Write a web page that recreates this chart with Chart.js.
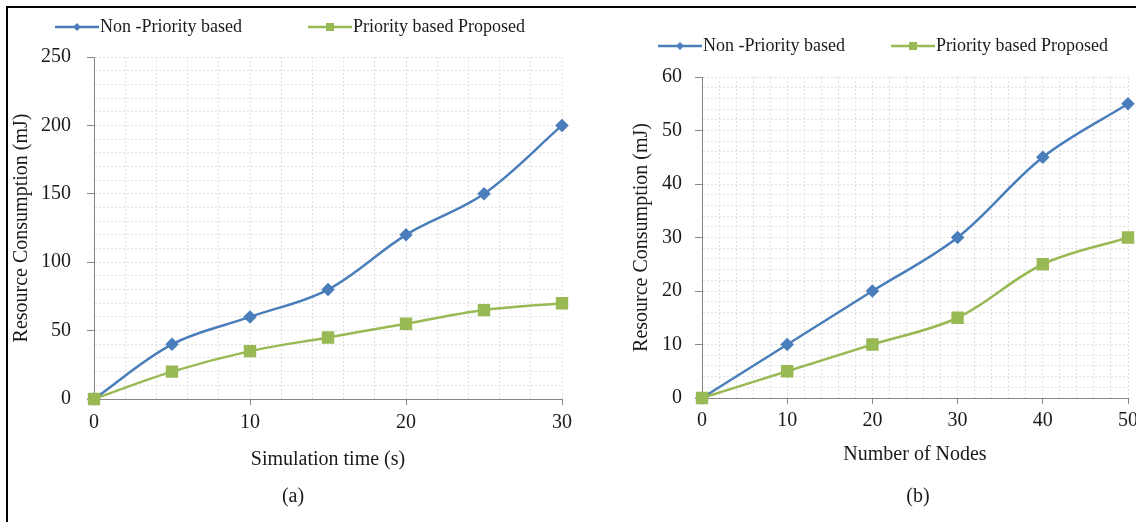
<!DOCTYPE html>
<html>
<head>
<meta charset="utf-8">
<title>Resource Consumption</title>
<script src="https://cdn.jsdelivr.net/npm/chart.js@4.4.1/dist/chart.umd.min.js"></script>
<style>
html, body { margin: 0; padding: 0; background: #fff; }
body { width: 1136px; height: 522px; overflow: hidden; position: relative; font-family: "Liberation Serif", serif; }
.frame { position: absolute; left: 6px; top: 6px; width: 1200px; height: 600px; border-top: 2px solid #000; border-left: 2px solid #000; z-index: 5; pointer-events: none; }
.box { position: absolute; top: 0; height: 522px; }
#boxA { left: -11px; width: 608px; }
#boxB { left: 612px; width: 560px; }
.caption { position: absolute; font-size: 20px; color: #1a1a1a; transform: translate(-50%, -50%); }
</style>
</head>
<body>
<div class="frame"></div>
<div class="box" id="boxA"><canvas id="chartA" width="608" height="522"></canvas></div>
<div class="box" id="boxB"><canvas id="chartB" width="560" height="522"></canvas></div>
<div class="caption" style="left:293px; top:495px;">(a)</div>
<div class="caption" style="left:918px; top:495px;">(b)</div>
<script>
// (a) simulation time
const simTime = [0, 5, 10, 15, 20, 25, 30];
const simNonPriority = [0, 40, 60, 80, 120, 150, 200];
const simPriority = [0, 20, 35, 45, 55, 65, 70];

// (b) number of nodes
const nodeCount = [0, 10, 20, 30, 40, 50];
const nodeNonPriority = [0, 10, 20, 30, 45, 55];
const nodePriority = [0, 5, 10, 15, 25, 30];

const seriesNames = ['Non -Priority based', 'Priority based Proposed'];

var blue = '#4a7ebb';
var green = '#98b954';
var axisGrey = '#868686';
var gridGrey = '#e0e0e0';
var textColor = '#1a1a1a';

Chart.defaults.font.family = '"Liberation Serif", "Times New Roman", serif';
Chart.defaults.color = textColor;

// legend marker: short line with the point in the middle
function legendIcon(color, shape, boxW) {
    var c = document.createElement('canvas');
    c.width = boxW + 16;
    c.height = 16;
    var g = c.getContext('2d');
    var mid = boxW - 6;
    g.strokeStyle = color;
    g.lineWidth = 2.5;
    g.beginPath();
    g.moveTo(boxW - 28, 8);
    g.lineTo(boxW + 16, 8);
    g.stroke();
    g.fillStyle = color;
    if (shape == 'diamond') {
        g.beginPath();
        g.moveTo(mid, 4); g.lineTo(mid + 4, 8); g.lineTo(mid, 12); g.lineTo(mid - 4, 8);
        g.closePath();
        g.fill();
    } else {
        g.fillRect(mid - 4, 4, 8, 8);
    }
    return c;
}

function toPoints(xs, ys) {
    return xs.map(function (x, i) { return { x: x, y: ys[i] }; });
}

function makeChart(id, o) {
    var icons = [legendIcon(blue, 'diamond', o.boxW), legendIcon(green, 'square', o.boxW)];
    var tickFont = { size: 20 };

    return new Chart(document.getElementById(id), {
        type: 'line',
        data: {
            datasets: [{
                label: seriesNames[0],
                data: toPoints(o.xs, o.nonPriority),
                borderColor: blue,
                backgroundColor: blue,
                borderWidth: 2.5,
                pointStyle: 'rectRot',
                pointRadius: 5,
                pointBackgroundColor: blue,
                pointBorderColor: blue,
                tension: 0.35,
                clip: false,
                order: 1
            }, {
                label: seriesNames[1],
                data: toPoints(o.xs, o.priority),
                borderColor: green,
                backgroundColor: green,
                borderWidth: 2.5,
                pointStyle: 'rect',
                pointRadius: 7,
                pointBackgroundColor: green,
                pointBorderColor: green,
                tension: 0.35,
                clip: false,
                order: 0
            }]
        },
        options: {
            responsive: false,
            animation: false,
            layout: { padding: { top: o.legendTop, right: o.padRight, left: 0, bottom: 0 } },
            plugins: {
                tooltip: { enabled: false },
                legend: {
                    position: 'top',
                    align: 'start',
                    labels: {
                        font: { size: 18 },
                        color: textColor,
                        usePointStyle: true,
                        pointStyleWidth: o.boxW,
                        padding: 10,
                        generateLabels: function (chart) {
                            var items = Chart.defaults.plugins.legend.labels.generateLabels(chart);
                            items.sort(function (a, b) { return a.datasetIndex - b.datasetIndex; });
                            items.forEach(function (it) { it.pointStyle = icons[it.datasetIndex]; });
                            return items;
                        }
                    }
                }
            },
            scales: {
                x: {
                    type: 'linear',
                    min: 0,
                    max: o.xMax,
                    afterFit: function (scale) { scale.height = o.xHeight; },
                    ticks: {
                        stepSize: o.xStep,
                        autoSkip: false,
                        maxRotation: 0,
                        font: tickFont,
                        color: textColor,
                        padding: o.xTickPad,
                        callback: function (v) { return v % o.xMajor === 0 ? v : ''; }
                    },
                    grid: {
                        color: gridGrey,
                        tickLength: 6,
                        tickColor: function (ctx) {
                            return ctx.tick && ctx.tick.value % o.xMajor === 0 ? axisGrey : 'rgba(0,0,0,0)';
                        }
                    },
                    border: { color: axisGrey, width: 1, dash: [2, 2] },
                    title: {
                        display: true,
                        text: o.xTitle,
                        font: { size: 20 },
                        color: textColor,
                        padding: { top: 0, bottom: o.xTitlePad }
                    }
                },
                y: {
                    min: 0,
                    max: o.yMax,
                    afterFit: function (scale) { scale.width = o.yWidth; },
                    ticks: {
                        stepSize: o.yStep,
                        autoSkip: false,
                        font: tickFont,
                        color: textColor,
                        padding: o.yTickPad,
                        callback: function (v) { return v % o.yMajor === 0 ? v : ''; }
                    },
                    grid: {
                        color: gridGrey,
                        tickLength: 7,
                        tickColor: function (ctx) {
                            return ctx.tick && ctx.tick.value % o.yMajor === 0 ? axisGrey : 'rgba(0,0,0,0)';
                        }
                    },
                    border: { color: axisGrey, width: 1, dash: [2, 2] },
                    title: {
                        display: true,
                        text: 'Resource Consumption (mJ)',
                        font: { size: 20 },
                        color: textColor,
                        padding: { top: o.yTitlePad, bottom: 0 }
                    }
                }
            }
        },
        plugins: [{
            id: 'legendGap',
            afterInit: function (chart) {
                var fit = chart.legend.fit;
                chart.legend.fit = function () {
                    fit.call(this);
                    this.height += o.legendExtra;
                };
            }
        }]
    });
}

makeChart('chartA', {
    xs: simTime, nonPriority: simNonPriority, priority: simPriority,
    xMax: 30, xStep: 2, xMajor: 10,
    yMax: 250, yStep: 10, yMajor: 50,
    xTitle: 'Simulation time (s)',
    boxW: 92, legendTop: 8, legendExtra: 11, padRight: 35,
    yWidth: 105, xHeight: 123, yTitlePad: 21, xTitlePad: 50,
    yTickPad: 16, xTickPad: 6
});

makeChart('chartB', {
    xs: nodeCount, nonPriority: nodeNonPriority, priority: nodePriority,
    xMax: 50, xStep: 2, xMajor: 10,
    yMax: 60, yStep: 2, yMajor: 10,
    xTitle: 'Number of Nodes',
    boxW: 72, legendTop: 27, legendExtra: 12, padRight: 44,
    yWidth: 90, xHeight: 124, yTitlePad: 18, xTitlePad: 55,
    yTickPad: 13, xTickPad: 5
});
</script>
</body>
</html>
